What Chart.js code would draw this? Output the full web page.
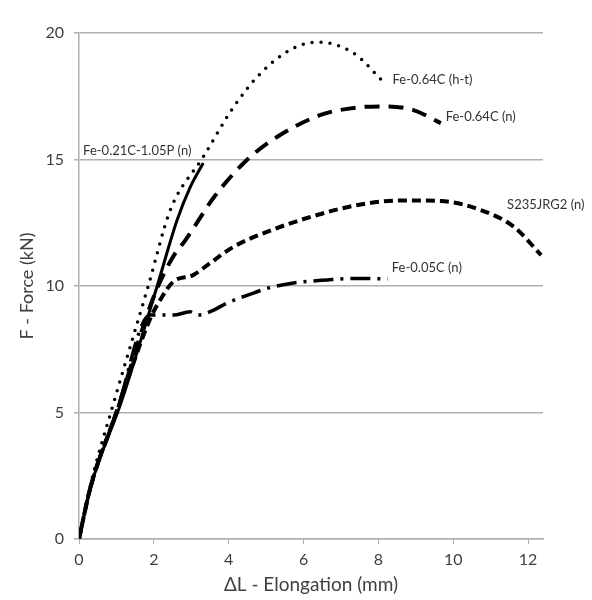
<!DOCTYPE html>
<html>
<head>
<meta charset="utf-8">
<script src="https://cdn.jsdelivr.net/npm/chart.js@4.4.1/dist/chart.umd.min.js"></script>
<style>
  html, body { margin: 0; padding: 0; background: #fff; }
  #wrap { width: 592px; height: 600px; }
</style>
</head>
<body>
<div id="wrap"><canvas id="c" width="592" height="600"></canvas></div>
<script>
// elongation (mm) / force (kN)
const htX = [0, 0.3, 0.95, 1.85, 2.44, 3.32, 4.13, 4.85, 5.73, 6.4, 7.34, 8.14];
const htY = [0, 2.1, 5.5, 10.0, 13.0, 15.1, 17.07, 18.4, 19.4, 19.64, 19.2, 18.06];

const c64X = [0, 0.3, 1.0, 1.95, 2.49, 2.84, 3.24, 3.6, 4.5, 5.3, 6.46, 7.4, 8.15, 8.92, 9.67];
const c64Y = [0, 2.0, 5.0, 9.4, 11.1, 11.8, 12.7, 13.5, 15.0, 15.9, 16.76, 17.05, 17.1, 16.96, 16.44];

const sX = [0, 0.3, 1.0, 1.9, 2.17, 2.52, 3.05, 3.5, 4.13, 5.04, 6.19, 7.45, 8.6, 9.67, 10.74, 11.63, 12.35];
const sY = [0, 2.0, 5.0, 8.7, 9.45, 10.17, 10.43, 10.9, 11.55, 12.15, 12.73, 13.2, 13.38, 13.36, 13.0, 12.33, 11.22];

const c05X = [0, 0.3, 1.0, 1.9, 2.52, 2.97, 3.19, 3.6, 3.96, 4.66, 5.06, 5.73, 6.64, 7.4, 8.25];
const c05Y = [0, 2.0, 5.0, 8.85, 8.85, 8.98, 8.85, 9.05, 9.33, 9.72, 9.92, 10.12, 10.24, 10.3, 10.28];

const pX = [0, 0.3, 1.15, 2.09, 2.62, 2.97, 3.32];
const pY = [0, 2.0, 5.5, 10.0, 12.6, 13.9, 14.86];

const xTicks = [0, 2, 4, 6, 8, 10, 12];
const yTicks = [0, 5, 10, 15, 20];

// text labels next to the curves, anchored at data coords (left-middle)
const labelText = ["Fe-0.64C (h-t)", "Fe-0.64C (n)", "S235JRG2 (n)", "Fe-0.05C (n)", "Fe-0.21C-1.05P (n)"];
const labelX = [8.38, 9.8, 11.44, 8.36, 0.11];
const labelY = [18.14, 16.68, 13.2, 10.71, 15.34];

function pts(xs, ys) {
  return xs.map((x, i) => ({ x: x, y: ys[i] }));
}

const curveLabels = {
  id: "curveLabels",
  afterDatasetsDraw(chart) {
    const ctx = chart.ctx;
    const xs = chart.scales.x, ys = chart.scales.y;
    ctx.save();
    ctx.font = "13px Lato";
    ctx.fillStyle = "#333";
    ctx.textAlign = "left";
    ctx.textBaseline = "middle";
    labelText.forEach((t, i) => {
      ctx.fillText(t, xs.getPixelForValue(labelX[i]), ys.getPixelForValue(labelY[i]));
    });
    ctx.restore();
  }
};

const base = { borderColor: "#000", backgroundColor: "#000", pointRadius: 0, cubicInterpolationMode: "monotone", fill: false };

const config = {
  type: "line",
  data: {
    datasets: [
      { ...base, label: "Fe-0.64C (h-t)", data: pts(htX, htY), borderWidth: 3.5, borderDash: [0, 9], borderCapStyle: "round" },
      { ...base, label: "Fe-0.64C (n)", data: pts(c64X, c64Y), borderWidth: 4, borderDash: [15, 9] },
      { ...base, label: "S235JRG2 (n)", data: pts(sX, sY), borderWidth: 4, borderDash: [9, 5] },
      { ...base, label: "Fe-0.05C (n)", data: pts(c05X, c05Y), borderWidth: 3.5, borderDash: [20, 7, 3, 7] },
      { ...base, label: "Fe-0.21C-1.05P (n)", data: pts(pX, pY), borderWidth: 3 }
    ]
  },
  options: {
    responsive: false,
    animation: false,
    layout: { padding: { left: 0, right: 49, top: 33, bottom: 0 } },
    plugins: { legend: { display: false }, tooltip: { enabled: false } },
    scales: {
      x: {
        type: "linear",
        min: 0,
        max: 12.4,
        afterBuildTicks: (s) => { s.ticks = xTicks.map(v => ({ value: v })); },
        afterFit: (s) => { s.height = 61; },
        ticks: { color: "#404040", font: { family: "Lato", size: 16 }, padding: 6 },
        grid: { drawOnChartArea: false, tickLength: 5, color: "#b0b0b0" },
        border: { color: "#b0b0b0", width: 1.5 },
        title: { display: true, text: "ΔL - Elongation (mm)", color: "#404040", font: { family: "Lato", size: 19 }, padding: { top: 0 } }
      },
      y: {
        min: 0,
        max: 20,
        afterBuildTicks: (s) => { s.ticks = yTicks.map(v => ({ value: v })); },
        afterFit: (s) => { s.width = 79; },
        ticks: { color: "#404040", font: { family: "Lato", size: 16 }, padding: 10 },
        grid: { tickLength: 5, color: "#b0b0b0", lineWidth: 1.5 },
        border: { color: "#b0b0b0", width: 1.5 },
        title: { display: true, text: "F - Force (kN)", color: "#404040", font: { family: "Lato", size: 18 }, padding: { top: 16, bottom: 4 } }
      }
    }
  },
  plugins: [curveLabels]
};

new Chart(document.getElementById("c"), config);
</script>
</body>
</html>
